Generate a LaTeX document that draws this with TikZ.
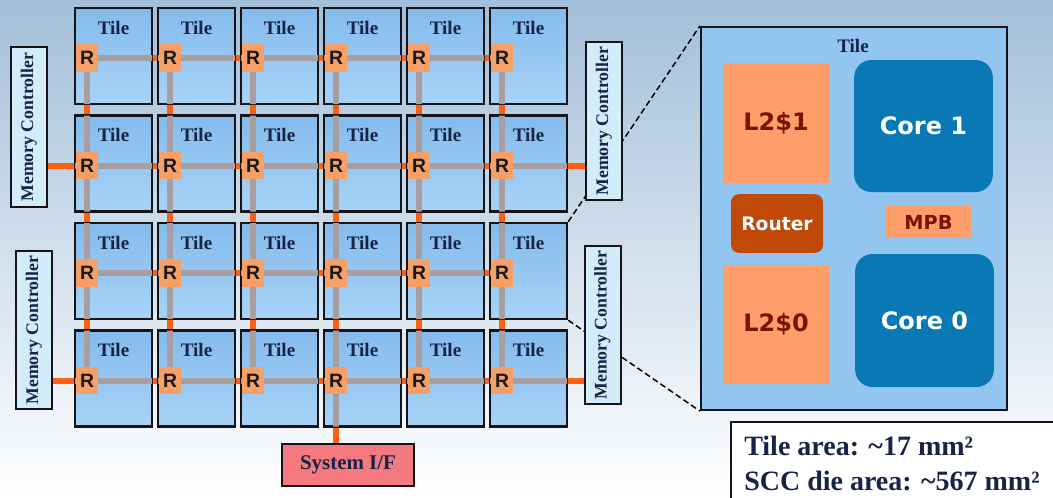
\documentclass[tikz,border=0pt]{standalone}
\usepackage{fontspec}
\setmainfont{Liberation Serif}
\newfontfamily\dvsans{DejaVu Sans}
\newfontfamily\lsans{Liberation Sans}
\usetikzlibrary{calc}
\pgfdeclarelayer{back}
\pgfdeclarelayer{orangel}
\pgfdeclarelayer{tiles}
\pgfdeclarelayer{greyl}
\pgfsetlayers{back,orangel,tiles,greyl,main}
\definecolor{bgtop}{RGB}{163,191,217}
\definecolor{bgmid}{RGB}{208,224,237}
\definecolor{tiletop}{RGB}{132,187,236}
\definecolor{tilebot}{RGB}{168,211,246}
\definecolor{detailfill}{RGB}{146,198,241}
\definecolor{navy}{RGB}{25,35,70}
\definecolor{rfill}{RGB}{246,160,104}
\definecolor{lfill}{RGB}{255,158,106}
\definecolor{routerfill}{RGB}{192,72,8}
\definecolor{corefill}{RGB}{10,120,180}
\definecolor{darkred}{RGB}{122,20,0}
\definecolor{orangeline}{RGB}{255,96,16}
\definecolor{greyline}{RGB}{168,158,162}
\definecolor{mcfill}{RGB}{210,236,250}
\definecolor{sysfill}{RGB}{244,122,128}
\definecolor{edge}{RGB}{20,20,25}
\tikzset{
  x=0.75pt, y=-0.75pt,
  tile/.style={draw=edge, line width=1.8pt, top color=tiletop, bottom color=tilebot, inner sep=0,
    minimum width=57.75pt, minimum height=72pt},
  tiletext/.style={font=\bfseries\fontsize{14.3}{16}\selectfont, text=navy, anchor=base, inner sep=0},
  router/.style={fill=rfill, inner sep=0, minimum width=17pt, minimum height=20.5pt,
    font=\lsans\bfseries\fontsize{14.5}{16}\selectfont, text=black!90},
  olink/.style={draw=orangeline, line width=4.5pt},
  glink/.style={draw=greyline, line width=4.5pt},
  mc/.style={draw=edge, line width=1.5pt, fill=mcfill, rotate=90, inner sep=0,
    minimum height=27pt, font=\bfseries\fontsize{13.3}{15}\selectfont, text=navy},
  sysif/.style={draw=edge, line width=1.5pt, fill=sysfill, inner sep=0,
    minimum width=99pt, minimum height=31pt, font=\bfseries\fontsize{15.7}{18}\selectfont, text=navy},
  zoomline/.style={draw=black, line width=1.1pt, dash pattern=on 4.5pt off 2.5pt},
  lcache/.style={fill=lfill, inner sep=0, minimum width=79.5pt,
    font=\dvsans\bfseries\fontsize{18}{20}\selectfont, text=darkred},
  core/.style={fill=corefill, rounded corners=13pt, inner sep=0, minimum width=104pt,
    font=\dvsans\bfseries\fontsize{18}{20}\selectfont, text=white},
  areatext/.style={font=\bfseries\fontsize{21}{24}\selectfont, text=navy, anchor=base west, inner sep=0}
}
\begin{document}
\begin{tikzpicture}
\useasboundingbox (0,0) rectangle (1053,497);
\begin{pgfonlayer}{back}
\shade[top color=bgtop, middle color=bgmid, bottom color=white, shading angle=0]
  (0,0) rectangle (1053,497);
\end{pgfonlayer}
% tiles and routers
\foreach \i in {1,...,4}{
  \foreach \j in {1,...,6}{
    \pgfmathsetmacro\L{75+83*(\j-1)}
    \pgfmathsetmacro\T{8+107.5*(\i-1)}
    \begin{pgfonlayer}{tiles}
    \node[tile] (t-\i-\j) at (\L+38.5,\T+48) {};
    \end{pgfonlayer}
    \node[tiletext] (tl-\i-\j) at (\L+38.5,\T+26) {Tile};
    \node[router] (r-\i-\j) at (\L+12,\T+50) {R};
  }
}
% memory controllers and system interface
\node[mc, minimum width=120pt] (mcl1) at (29,127) {Memory Controller};
\node[mc, minimum width=118.5pt] (mcl2) at (34,330) {Memory Controller};
\node[mc, minimum width=118.5pt] (mcr1) at (604,121) {Memory Controller};
\node[mc, minimum width=118.5pt] (mcr2) at (602.5,325) {Memory Controller};
\node[sysif] (sysif) at (348,465) {System I/F};
% network links: orange everywhere, grey inside tiles
\begin{pgfonlayer}{orangel}
\foreach \i in {1,...,4}{\draw[olink] (r-\i-1.center) -- (r-\i-6.center);}
\foreach \j in {1,...,6}{\draw[olink] (r-1-\j.center) -- (r-4-\j.center);}
\draw[olink] (r-2-1 -| mcl1) -- (r-2-1.center);
\draw[olink] (r-4-1 -| mcl2) -- (r-4-1.center);
\draw[olink] (r-2-6.center) -- (r-2-6 -| mcr1);
\draw[olink] (r-4-6.center) -- (r-4-6 -| mcr2);
\draw[olink] (r-4-4.center) -- (r-4-4 |- sysif);
\end{pgfonlayer}
\begin{pgfonlayer}{greyl}
\begin{scope}
\clip \foreach \i in {1,...,4}{\foreach \j in {1,...,6}{
  ([shift={(0.9pt,0.9pt)}]t-\i-\j.south west) rectangle ([shift={(-0.9pt,-0.9pt)}]t-\i-\j.north east)}};
\foreach \i in {1,...,4}{\draw[glink] (r-\i-1.center) -- (r-\i-6.center);}
\foreach \j in {1,...,6}{\draw[glink] (r-1-\j.center) -- (r-4-\j.center);}
\draw[glink] (r-2-1 -| mcl1) -- (r-2-1.center);
\draw[glink] (r-4-1 -| mcl2) -- (r-4-1.center);
\draw[glink] (r-2-6.center) -- (r-2-6 -| mcr1);
\draw[glink] (r-4-6.center) -- (r-4-6 -| mcr2);
\draw[glink] (r-4-4.center) -- (r-4-4 |- sysif);
\end{scope}
\end{pgfonlayer}
% detail of one tile
\node[draw=edge, line width=1.6pt, fill=detailfill, inner sep=0,
  minimum width=229.5pt, minimum height=287.25pt] (detail) at (854,218.5) {};
\node[tiletext] (dtl) at (853,52) {Tile};
\node[lcache, minimum height=90pt] (l21) at (776,123) {L2\$1};
\node[core, minimum height=99pt] (core1) at (923.5,126) {Core 1};
\node[fill=routerfill, rounded corners=6pt, inner sep=0, minimum width=69pt, minimum height=44pt,
  font=\dvsans\bfseries\fontsize{14}{16}\selectfont, text=white] (router) at (777,223.5) {Router};
\node[fill=lfill, inner sep=0, minimum width=63.75pt, minimum height=24pt,
  font=\dvsans\bfseries\fontsize{14.5}{16}\selectfont, text=darkred] (mpb) at (928.5,222) {MPB};
\node[lcache, minimum height=89.25pt] (l20) at (776,324.5) {L2\$0};
\node[core, minimum height=99.75pt] (core0) at (924.5,320.5) {Core 0};
\begin{pgfonlayer}{back}
\draw[zoomline] (t-3-6.north east) -- (detail.north west);
\draw[zoomline] (t-3-6.south east) -- (detail.south west);
\end{pgfonlayer}
% area box
\node[draw=edge, line width=1.3pt, fill=white, anchor=north west, inner sep=0,
  minimum width=250pt, minimum height=65pt] (areabox) at (730,421) {};
\node[areatext] (area1) at (744,455) {Tile area: \textasciitilde17 mm²};
\node[areatext] (area2) at (744,490) {SCC die area: \textasciitilde567 mm²};
\end{tikzpicture}
\end{document}
